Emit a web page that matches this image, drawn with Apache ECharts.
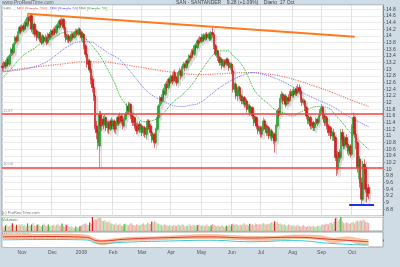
<!DOCTYPE html>
<html>
<head>
<meta charset="utf-8">
<script src="https://cdn.jsdelivr.net/npm/echarts@6/dist/echarts.min.js"></script>
<style>
html,body{margin:0;padding:0;background:#cfdce6;}
#chart{width:400px;height:267px;}
</style>
</head>
<body>
<div id="chart"></div>
<script>
// daily candles [open, close, low, high], one array per month
var oct07 = [[13.10,13.05,12.95,13.20],[13.05,13.20,12.95,13.25],[13.20,13.10,13.02,13.28],[13.10,13.30,13.05,13.35],[13.30,13.15,13.08,13.38],[13.15,13.40,13.10,13.45],[13.40,13.60,13.35,13.65],[13.60,13.50,13.42,13.68],[13.50,13.75,13.45,13.80],[13.75,13.95,13.70,14.00],[13.95,13.85,13.78,14.02],[13.85,14.10,13.80,14.15],[14.10,14.25,14.05,14.30],[14.25,14.15,14.05,14.32]];
var nov07 = [[14.15,14.30,14.10,14.35],[14.30,14.20,14.12,14.38],[14.20,14.40,14.15,14.45],[14.40,14.30,14.20,14.50],[14.30,14.55,14.25,14.65],[14.55,14.45,14.35,14.62],[14.45,14.60,14.40,14.66],[14.60,14.20,14.10,14.62],[14.20,14.35,14.05,14.42],[14.35,14.05,13.95,14.40],[14.05,14.15,13.98,14.22],[14.15,13.95,13.85,14.20],[13.95,14.10,13.90,14.15],[14.10,13.90,13.82,14.12],[13.90,13.80,13.72,13.98],[13.80,14.00,13.75,14.05],[13.95,13.85,13.78,14.02],[13.85,13.95,13.80,14.05],[13.95,13.80,13.72,14.00],[13.80,14.05,13.75,14.10],[14.05,13.95,13.88,14.12],[13.95,14.15,13.90,14.20]];
var dec07 = [[14.15,14.05,13.98,14.20],[14.05,14.20,14.00,14.25],[14.20,14.10,14.02,14.28],[14.10,14.30,14.05,14.35],[14.30,14.25,14.18,14.40],[14.25,14.45,14.20,14.50],[14.45,14.35,14.28,14.52],[14.35,14.50,14.30,14.55],[14.50,14.25,14.18,14.52],[14.25,14.05,13.95,14.30],[14.05,13.90,13.82,14.10],[13.90,14.00,13.80,14.05],[14.00,13.85,13.78,14.05],[13.85,13.95,13.80,14.00],[13.95,14.05,13.90,14.10],[14.05,13.95,13.88,14.10],[13.95,14.10,13.92,14.15],[14.10,14.15,14.05,14.22],[14.15,14.05,13.98,14.20],[14.05,14.20,14.00,14.25],[14.20,14.10,14.02,14.25]];
var jan08 = [[14.10,13.95,13.85,14.15],[13.95,14.05,13.80,14.10],[14.05,13.70,13.60,14.08],[13.70,13.45,13.35,13.75],[13.45,13.15,13.05,13.50],[13.15,13.25,12.95,13.30],[13.25,13.00,12.90,13.30],[13.00,12.70,12.55,13.05],[12.70,12.45,12.30,12.80],[12.45,12.20,12.05,12.55],[12.20,11.30,11.20,12.25],[11.30,11.10,10.90,11.45],[11.10,10.80,10.60,11.20],[10.70,11.65,10.05,11.75],[11.65,11.30,11.20,11.75],[11.30,11.50,11.15,11.60],[11.50,11.35,11.20,11.60],[11.35,11.55,11.30,11.65],[11.55,11.25,11.15,11.58],[11.25,11.40,11.10,11.45],[11.40,11.20,11.05,11.45],[11.20,11.45,11.15,11.50],[11.45,11.30,11.20,11.55]];
var feb08 = [[11.30,11.45,11.20,11.50],[11.45,11.20,11.10,11.50],[11.20,11.35,11.05,11.40],[11.35,11.55,11.30,11.60],[11.55,11.40,11.30,11.65],[11.40,11.60,11.35,11.70],[11.60,11.45,11.35,11.65],[11.45,11.30,11.20,11.50],[11.30,11.50,11.25,11.55],[11.50,11.65,11.45,11.72],[11.65,11.90,11.60,11.98],[11.90,11.75,11.65,12.02],[11.75,11.95,11.70,12.00],[11.95,11.60,11.50,11.98],[11.60,11.40,11.30,11.65],[11.40,11.55,11.30,11.60],[11.55,11.30,11.20,11.58],[11.30,11.15,11.05,11.40],[11.15,11.35,11.05,11.40],[11.35,11.20,11.10,11.45],[11.20,11.30,11.10,11.38]];
var mar08 = [[11.30,11.10,11.00,11.35],[11.10,11.25,11.00,11.30],[11.25,11.05,10.95,11.30],[11.05,11.20,10.90,11.25],[11.20,11.45,11.15,11.50],[11.45,11.30,11.20,11.50],[11.30,11.10,11.00,11.35],[11.10,10.90,10.80,11.15],[10.90,11.05,10.85,11.10],[11.05,10.80,10.65,11.10],[10.80,11.20,10.75,11.25],[11.20,11.55,11.15,11.60],[11.55,11.90,11.50,11.95],[11.90,12.15,11.85,12.20],[12.15,12.05,11.95,12.25],[12.05,12.35,12.00,12.40],[12.35,12.25,12.15,12.45],[12.25,12.55,12.20,12.60],[12.55,12.45,12.35,12.65],[12.45,12.70,12.40,12.75],[12.70,12.60,12.50,12.78]];
var apr08 = [[12.60,12.80,12.55,12.85],[12.80,12.65,12.55,12.88],[12.65,12.90,12.60,12.95],[12.90,12.75,12.65,12.98],[12.75,12.60,12.50,12.80],[12.60,12.85,12.55,12.90],[12.85,12.95,12.80,13.05],[12.95,12.80,12.70,13.00],[12.80,13.05,12.75,13.10],[13.05,13.15,13.00,13.22],[13.15,13.05,12.95,13.20],[13.05,13.25,13.00,13.30],[13.25,13.20,13.10,13.32],[13.20,13.40,13.15,13.45],[13.40,13.35,13.25,13.50],[13.35,13.55,13.30,13.60],[13.55,13.45,13.38,13.62],[13.45,13.70,13.40,13.75],[13.70,13.65,13.55,13.78],[13.65,13.85,13.60,13.90],[13.85,13.80,13.70,13.95],[13.80,13.95,13.75,14.00]];
var may08 = [[13.95,13.85,13.78,14.05],[13.85,14.00,13.80,14.05],[14.00,13.90,13.82,14.08],[13.90,14.05,13.85,14.10],[14.05,13.95,13.88,14.12],[13.95,14.05,13.90,14.10],[14.05,13.90,13.85,14.12],[13.90,14.10,13.85,14.15],[14.10,14.05,13.95,14.25],[14.05,13.70,13.60,14.08],[13.70,13.45,13.40,13.75],[13.45,13.55,13.35,13.60],[13.55,13.35,13.25,13.58],[13.35,13.20,13.10,13.40],[13.20,13.30,13.12,13.35],[13.30,13.10,13.00,13.35],[13.10,13.25,13.05,13.30],[13.25,13.15,13.05,13.30],[13.15,13.30,13.10,13.35],[13.30,13.20,13.10,13.35],[13.20,13.05,12.95,13.25],[13.05,13.15,12.98,13.20]];
var jun08 = [[13.15,12.95,12.85,13.20],[12.95,12.40,12.30,13.00],[12.40,12.55,12.30,12.60],[12.55,12.20,12.10,12.60],[12.20,12.35,12.05,12.40],[12.35,12.45,12.25,12.50],[12.45,12.20,12.10,12.50],[12.20,12.05,11.95,12.25],[12.05,12.15,11.95,12.20],[12.15,11.95,11.85,12.20],[11.95,12.05,11.85,12.10],[12.05,11.80,11.70,12.10],[11.80,11.90,11.70,11.95],[11.90,11.70,11.60,11.95],[11.70,11.85,11.65,11.90],[11.85,11.60,11.50,11.88],[11.60,11.40,11.30,11.65],[11.40,11.55,11.30,11.60],[11.55,11.30,11.20,11.58],[11.30,11.15,11.05,11.35],[11.15,11.25,11.05,11.30]];
var jul08 = [[11.25,11.05,10.95,11.30],[11.05,11.20,10.95,11.30],[11.20,11.45,11.15,11.55],[11.45,11.30,11.20,11.50],[11.30,11.10,11.00,11.35],[11.10,11.25,11.00,11.30],[11.25,11.00,10.90,11.30],[11.00,11.15,10.90,11.20],[11.15,10.95,10.85,11.20],[10.95,11.05,10.75,11.10],[11.05,10.85,10.50,11.10],[10.85,11.30,10.80,11.35],[11.30,11.75,11.25,11.80],[11.75,11.65,11.55,11.85],[11.65,12.10,11.60,12.15],[12.10,12.25,12.00,12.35],[12.25,12.05,11.95,12.30],[12.05,12.20,11.95,12.25],[12.20,11.95,11.85,12.25],[11.95,12.15,11.90,12.20],[12.15,12.05,11.95,12.25],[12.05,12.30,12.00,12.35],[12.30,12.20,12.10,12.40]];
var aug08 = [[12.20,12.35,12.15,12.40],[12.35,12.25,12.15,12.45],[12.25,12.40,12.20,12.45],[12.40,12.30,12.20,12.50],[12.30,12.45,12.25,12.55],[12.45,12.35,12.25,12.55],[12.35,12.10,12.00,12.40],[12.10,12.00,11.90,12.15],[12.00,12.05,11.92,12.12],[12.05,11.85,11.75,12.10],[11.85,11.60,11.50,11.90],[11.60,11.45,11.35,11.70],[11.45,11.55,11.35,11.60],[11.55,11.30,11.20,11.60],[11.30,11.40,11.20,11.45],[11.40,11.25,11.15,11.45],[11.25,11.35,11.15,11.40],[11.35,11.50,11.30,11.55],[11.50,11.40,11.30,11.55],[11.40,11.60,11.35,11.65],[11.60,11.75,11.55,11.80]];
var sep08 = [[11.75,11.85,11.65,11.95],[11.85,11.60,11.50,11.90],[11.60,11.40,11.30,11.65],[11.40,11.55,11.30,11.60],[11.55,11.30,11.20,11.60],[11.30,11.10,11.00,11.35],[11.10,11.25,11.00,11.30],[11.25,11.00,10.90,11.30],[11.00,11.10,10.85,11.15],[11.10,10.95,10.85,11.20],[10.95,10.35,10.25,11.00],[10.35,10.00,9.80,10.45],[10.00,10.50,9.85,10.55],[10.50,10.35,10.20,10.60],[10.35,11.10,10.30,11.20],[11.10,10.90,10.80,11.20],[10.90,10.70,10.60,11.00],[10.70,10.95,10.60,11.00],[10.95,10.75,10.65,11.05],[10.75,10.55,10.45,10.80],[10.55,10.70,10.40,10.75],[10.70,10.45,10.35,10.75]];
var oct08 = [[10.45,11.25,10.40,11.35],[11.25,11.55,11.10,11.70],[11.55,11.05,10.95,11.60],[11.05,10.80,10.60,11.15],[10.80,10.05,9.90,10.85],[10.05,10.30,9.70,10.40],[10.30,9.60,9.45,10.40],[9.60,9.10,8.95,9.75],[9.10,10.15,9.05,10.25],[10.15,10.05,9.85,10.30],[10.05,9.40,9.30,10.10],[9.40,9.18,9.00,9.55],[9.45,9.28,9.10,9.55]];

// daily volume (millions), one array per month
var volOct07 = [45,38,52,60,41,47,55,72,50,44,58,49,62,53];
var volNov07 = [66,48,57,41,70,52,46,61,75,50,43,58,64,47,39,55,68,51,45,60,42,49];
var volDec07 = [53,61,44,57,66,48,52,70,45,40,59,63,47,38,44,35,29,41,33,30,46];
var volJan08 = [50,58,64,72,60,55,80,68,140,95,112,105,120,135,118,96,92,100,85,78,90,73,70];
var volFeb08 = [64,58,72,55,61,68,50,47,63,70,58,52,66,74,60,55,49,62,57,51,59];
var volMar08 = [66,72,58,63,80,70,65,88,76,92,84,70,67,60,55,48,62,58,52,47,56];
var volApr08 = [50,45,58,52,47,60,55,49,63,57,44,51,48,62,54,46,58,50,43,56,61,52];
var volMay08 = [48,55,43,51,60,46,40,53,66,58,49,45,52,42,47,55,41,38,50,44,57,46];
var volJun08 = [62,70,55,64,58,49,60,53,66,72,57,61,50,68,59,63,55,71,64,58,66];
var volJul08 = [60,68,74,62,57,70,65,76,82,69,90,78,85,66,72,60,58,64,52,49,61,55,50];
var volAug08 = [47,53,42,50,58,45,40,48,55,43,38,46,52,41,44,49,37,42,47,51,45];
var volSep08 = [58,63,55,70,66,61,74,80,68,85,118,128,96,110,145,88,76,70,82,74,66,72];
var volOct08 = [78,84,70,90,96,88,100,92,110,98,86,82,74];

// moving averages: [day index, value]
var ma20 = [[0,12.75],[6,13.0],[11,13.25],[16,13.45],[22,13.6],[28,13.78],[34,13.88],[39,14.0],[44,14.1],[49,14.12],[54,14.09],[58,14.0],[61,13.88],[66,13.65],[71,13.37],[76,13.0],[81,12.6],[85,12.2],[89,11.95],[92,11.79],[97,11.6],[102,11.43],[107,11.45],[111,11.5],[114,11.58],[119,11.8],[123,12.0],[129,12.2],[134,12.39],[139,12.65],[143,12.9],[148,13.2],[153,13.45],[158,13.55],[163,13.55],[167,13.4],[172,13.2],[177,12.85],[182,12.4],[187,12.15],[192,11.98],[197,11.8],[203,11.7],[210,11.6],[215,11.7],[221,11.8],[228,11.88],[235,11.85],[242,11.58],[246,11.4],[250,11.19],[254,11.0],[257,10.9],[261,10.75],[265,10.6]];
var ma50 = [[0,12.93],[11,12.97],[21,13.05],[28,13.15],[34,13.28],[41,13.5],[48,13.7],[56,13.82],[63,13.82],[69,13.7],[76,13.5],[85,13.28],[91,13.0],[97,12.7],[103,12.4],[109,12.2],[114,12.09],[121,11.95],[129,11.88],[136,11.92],[143,12.0],[151,12.25],[159,12.5],[167,12.69],[174,12.82],[181,12.9],[188,12.85],[196,12.75],[203,12.63],[211,12.45],[217,12.3],[223,12.18],[231,12.03],[239,11.88],[246,11.7],[252,11.55],[259,11.4],[265,11.28]];
var ma200 = [[0,12.93],[16,13.03],[31,13.1],[46,13.17],[58,13.22],[71,13.22],[86,13.15],[101,13.05],[116,12.95],[131,12.87],[143,12.84],[156,12.86],[168,12.89],[179,12.9],[191,12.86],[203,12.78],[215,12.64],[227,12.48],[239,12.3],[251,12.1],[265,11.88]];

// lower oscillator panel: orange band (upper/lower edge), red and cyan lines
var bandUpper = [[0,0.75],[20,0.7],[40,0.72],[60,0.6],[66,0.2],[72,-0.1],[80,0.1],[95,0.3],[110,0.35],[130,0.55],[150,0.65],[170,0.5],[185,0.4],[200,0.45],[215,0.6],[230,0.5],[240,0.2],[250,0.35],[258,0.1],[265,0.0]];
var bandLower = [[0,0.15],[20,0.1],[40,0.15],[60,0.1],[66,-0.3],[72,-0.7],[80,-0.4],[95,-0.1],[110,-0.05],[130,0.1],[150,0.15],[170,0.0],[185,-0.1],[200,-0.05],[215,0.1],[230,0.0],[240,-0.4],[250,-0.2],[258,-0.6],[265,-0.7]];
var oscRed = [[0,0.35],[30,0.4],[60,0.3],[70,-0.2],[90,0.05],[120,0.25],[150,0.35],[180,0.2],[210,0.3],[240,0.0],[265,-0.3]];
var oscCyan = [[0,-0.05],[30,0.0],[60,-0.05],[70,-0.55],[90,-0.35],[120,-0.2],[150,-0.1],[180,-0.3],[210,-0.15],[240,-0.55],[265,-0.75]];

// drawn levels
var resistance = 11.67;
var support = 10.06;
var trendFrom = [18, 14.66];
var trendTo = [255, 13.97];
var floorLevel = 8.95;
var floorFrom = 251;
var floorTo = 269;
var lastClose = 9.28;

var monthNames = ['2008','Feb','Mar','Apr','May','Jun','Jul','Aug','Sep','Oct','Nov','Dec'];

var ohlc = [].concat(oct07, nov07, dec07, jan08, feb08, mar08, apr08, may08, jun08, jul08, aug08, sep08, oct08);
var volume = [].concat(volOct07, volNov07, volDec07, volJan08, volFeb08, volMar08, volApr08, volMay08, volJun08, volJul08, volAug08, volSep08, volOct08);

// trading days (weekdays) incl. some empty days after the last candle
var dates = [], monthStart = [], monthOf = [];
var d = new Date(Date.UTC(2007, 9, 12));
var prevM = -1;
while (d.getTime() <= Date.UTC(2008, 9, 31)) {
  var wd = d.getUTCDay();
  if (wd > 0 && wd < 6) {
    var m = d.getUTCMonth();
    monthStart.push(dates.length > 0 && m !== prevM);
    monthOf.push(m);
    prevM = m;
    dates.push(d.toISOString().slice(0, 10));
  }
  d.setUTCDate(d.getUTCDate() + 1);
}

var volData = volume.map(function (v, i) {
  var up = ohlc[i][1] >= ohlc[i][0];
  var strong = i > 0 && v > volume[i - 1] * 1.3;
  var c = up ? (strong ? '#22b022' : '#a6e09c') : (strong ? '#e02020' : '#f2aaaa');
  return { value: v, itemStyle: { color: c } };
});

var shadowData = ohlc.map(function (c, i) { return [i, c[0], c[1], c[2], c[3]]; });

function renderShadow(params, api) {
  var i = api.value(0);
  var hi = api.coord([i, api.value(4)]);
  var lo = api.coord([i, api.value(3)]);
  var t = api.coord([i, Math.max(api.value(1), api.value(2))]);
  var b = api.coord([i, Math.min(api.value(1), api.value(2))]);
  return {
    type: 'group',
    children: [
      { type: 'line', shape: { x1: hi[0] + 2, y1: hi[1] + 2, x2: lo[0] + 2, y2: lo[1] + 2 }, style: { stroke: '#d6d6d6', lineWidth: 1 } },
      { type: 'rect', shape: { x: t[0] + 1, y: t[1] + 2, width: 2, height: Math.max(1, b[1] - t[1]) }, style: { fill: '#d6d6d6' } }
    ]
  };
}

function boxLabel(text, fg, bg, border) {
  return {
    show: true, position: 'end', distance: 2, formatter: text,
    fontSize: 5, fontFamily: 'Liberation Sans', color: fg,
    backgroundColor: bg, borderColor: border, borderWidth: 0.6, padding: [1, 1]
  };
}

var font = 'Liberation Sans';
var gl = 2, gr = 17;

function oscLine(data, color, z) {
  return { type: 'line', xAxisIndex: 2, yAxisIndex: 2, data: data, smooth: true, symbol: 'none', z: z, lineStyle: { width: 1, color: color } };
}

var chart = echarts.init(document.getElementById('chart'));
chart.setOption({
  animation: false,
  backgroundColor: '#cfdce6',
  grid: [
    { left: gl, right: gr, top: 5, height: 211, show: true, backgroundColor: '#fff', borderColor: '#9aa4aa', borderWidth: 1 },
    { left: gl, right: gr, top: 217, height: 14, show: true, backgroundColor: '#fff', borderColor: '#9aa4aa', borderWidth: 1 },
    { left: gl, right: gr, top: 232, height: 15, show: true, backgroundColor: '#fff', borderColor: '#9aa4aa', borderWidth: 1 }
  ],
  xAxis: [0, 1, 2].map(function (k) {
    return {
      type: 'category', gridIndex: k, data: dates, boundaryGap: true,
      axisLine: { show: false },
      axisTick: { show: k === 2, interval: function (i) { return monthStart[i]; }, length: 2, lineStyle: { color: '#777' } },
      axisLabel: {
        show: k === 2, interval: function (i) { return monthStart[i]; },
        formatter: function (v, i) { return monthNames[monthOf[i]] || ''; },
        fontSize: 5, fontFamily: font, color: '#555', margin: 3
      },
      splitLine: { show: k === 0, interval: function (i) { return monthStart[i]; }, lineStyle: { color: '#e2e2e2', width: 1 } }
    };
  }),
  yAxis: [
    {
      gridIndex: 0, position: 'right', min: 8.6, max: 14.925, interval: 0.2,
      axisLine: { show: true, lineStyle: { color: '#8a8f94' } },
      axisTick: { show: true, length: 2, lineStyle: { color: '#8a8f94' } },
      axisLabel: {
        fontSize: 5, fontFamily: font, color: '#444', margin: 3,
        showMinLabel: false, showMaxLabel: false,
        formatter: function (v) { return String(+v.toFixed(1)); }
      },
      splitLine: { lineStyle: { color: '#ececec' } }
    },
    { gridIndex: 1, position: 'right', min: 0, max: 130, axisLine: { show: false }, axisTick: { show: false }, axisLabel: { show: false }, splitLine: { show: false } },
    { gridIndex: 2, position: 'right', min: -1, max: 1, axisLine: { show: false }, axisTick: { show: false }, axisLabel: { show: false }, splitLine: { show: false } }
  ],
  series: [
    {
      type: 'custom', xAxisIndex: 0, yAxisIndex: 0, data: shadowData, clip: true,
      encode: { x: 0, y: [1, 2, 3, 4] }, renderItem: renderShadow, silent: true, z: 1
    },
    {
      type: 'line', name: 'MM200', data: ma200, smooth: true, symbol: 'none', z: 2,
      lineStyle: { type: 'dotted', width: 1.2, color: '#f07868' },
      markLine: { symbol: 'none', silent: true, lineStyle: { opacity: 0 },
        data: [{ yAxis: ma200[ma200.length - 1][1], label: boxLabel('11.88', '#e03030', '#fff', '#e03030') }] }
    },
    {
      type: 'line', name: 'MM50', data: ma50, smooth: true, symbol: 'none', z: 2,
      lineStyle: { type: 'dotted', width: 1, color: '#7070f0' },
      markLine: { symbol: 'none', silent: true, lineStyle: { opacity: 0 },
        data: [{ yAxis: ma50[ma50.length - 1][1], label: boxLabel('11.28', '#3030d0', '#fff', '#3030d0') }] }
    },
    {
      type: 'line', name: 'MM20', data: ma20, smooth: true, symbol: 'none', z: 2,
      lineStyle: { type: 'dotted', width: 1, color: '#1fb01f' },
      markLine: { symbol: 'none', silent: true, lineStyle: { opacity: 0 },
        data: [{ yAxis: ma20[ma20.length - 1][1], label: boxLabel('10.60', '#149014', '#fff', '#149014') }] }
    },
    {
      type: 'candlestick', name: 'SAN', data: ohlc, barWidth: 2, z: 3,
      itemStyle: { color: '#26ac26', color0: '#e61a1a', borderColor: '#23902a', borderColor0: '#c01212', borderWidth: 0.6 },
      markLine: {
        symbol: 'none', silent: true,
        data: [
          { yAxis: resistance, lineStyle: { color: '#f04040', width: 1.6, type: 'solid' },
            label: { show: true, position: 'insideStartTop', formatter: String(resistance), fontSize: 4, fontFamily: font, color: '#999', distance: 1 } },
          { yAxis: support, lineStyle: { color: '#f04040', width: 1.6, type: 'solid' },
            label: { show: true, position: 'insideStartTop', formatter: String(support), fontSize: 4, fontFamily: font, color: '#999', distance: 1 } },
          [{ coord: trendFrom, lineStyle: { color: '#ff7a1f', width: 2, type: 'solid' }, label: { show: false } }, { coord: trendTo }],
          [{ coord: [floorFrom, floorLevel], lineStyle: { color: '#2030e0', width: 2, type: 'solid' }, label: { show: false } }, { coord: [floorTo, floorLevel] }],
          { yAxis: lastClose, lineStyle: { opacity: 0 }, label: boxLabel(lastClose.toFixed(2), '#222', '#f2c21b', '#c89a00') }
        ]
      }
    },
    {
      type: 'bar', xAxisIndex: 1, yAxisIndex: 1, data: volData, barWidth: 1.2,
      markLine: { symbol: 'none', silent: true, lineStyle: { opacity: 0 },
        data: [{ yAxis: 75, label: boxLabel('74.0M', '#222', '#f2c21b', '#c89a00') }] }
    },
    {
      type: 'line', xAxisIndex: 2, yAxisIndex: 2, data: bandUpper, smooth: true, symbol: 'none', z: 2,
      lineStyle: { width: 0.6, color: '#f0a070' }, areaStyle: { color: '#fac9a0', opacity: 1, origin: 'start' },
      markLine: { symbol: 'none', silent: true, lineStyle: { opacity: 0 },
        data: [{ yAxis: 0.3, label: boxLabel('-0.05', '#e07a40', '#fff', '#e07a40') },
               { yAxis: -0.5, label: boxLabel('-0.40', '#20a020', '#fff', '#20a020') }] }
    },
    {
      type: 'line', xAxisIndex: 2, yAxisIndex: 2, data: bandLower, smooth: true, symbol: 'none', z: 3,
      lineStyle: { width: 0.6, color: '#f0a070' }, areaStyle: { color: '#fff', opacity: 1, origin: 'start' }
    },
    oscLine(oscRed, '#e03030', 4),
    oscLine(oscCyan, '#30c8e0', 4)
  ],
  graphic: [
    { type: 'text', left: 2, top: 0, style: { text: 'www.ProRealTime.com', fontSize: 5, fontFamily: font, fill: '#666' } },
    { type: 'text', left: 176, top: 0, style: { text: 'SAN - SANTANDER    9.28 (+1.09%)    Diario  17 Oct', fontSize: 5, fontFamily: font, fill: '#444' } },
    { type: 'text', left: 3, top: 7, style: { text: 'SAN', fontSize: 4, fontFamily: font, fill: '#888' } },
    { type: 'text', left: 17, top: 7, style: { text: 'MM (Simple 200)', fontSize: 4, fontFamily: font, fill: '#e05050' } },
    { type: 'text', left: 50, top: 7, style: { text: 'MM (Simple 50)', fontSize: 4, fontFamily: font, fill: '#5050e0' } },
    { type: 'text', left: 79, top: 7, style: { text: 'MM (Simple 20)', fontSize: 4, fontFamily: font, fill: '#20a020' } },
    { type: 'text', left: 2, top: 211, style: { text: '(c) ProRealTime.com', fontSize: 4, fontFamily: font, fill: '#777' } },
    { type: 'text', left: 2, top: 218, style: { text: 'Volumen', fontSize: 4, fontFamily: font, fill: '#30a030' } },
    { type: 'text', left: 2, top: 233, style: { text: 'MACD (12,26,9)', fontSize: 4, fontFamily: font, fill: '#777' } }
  ]
});
</script>
</body>
</html>
